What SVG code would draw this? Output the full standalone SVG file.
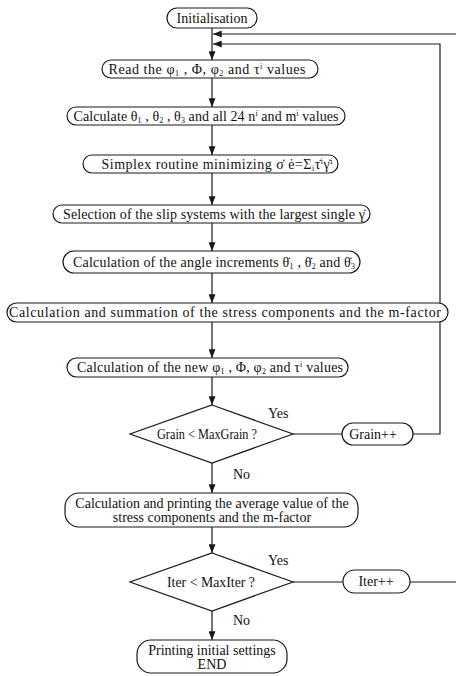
<svg xmlns="http://www.w3.org/2000/svg" width="456" height="676" viewBox="0 0 456 676">
<defs>
<style>
.box{fill:#fff;stroke:#1a1a1a;stroke-width:1.2}
.t{font-family:"Liberation Serif","Times New Roman",serif;font-size:14px;fill:#111;text-anchor:middle}
.l{font-family:"Liberation Serif","Times New Roman",serif;font-size:14px;fill:#111}
.s{font-size:8px}
.c{fill:none;stroke:#1a1a1a;stroke-width:1.2}
</style>
<marker id="ah" viewBox="0 0 10 8" refX="10" refY="4" markerWidth="10" markerHeight="7" markerUnits="userSpaceOnUse" orient="auto">
<path d="M0,0 L10,4 L0,8 z" fill="#1a1a1a"/>
</marker>
</defs>
<rect width="456" height="676" fill="#fff"/>
<g id="connectors">
<path class="c" d="M212,28 V60" marker-end="url(#ah)"/>
<path class="c" d="M212,78 V107" marker-end="url(#ah)"/>
<path class="c" d="M212,125 V155" marker-end="url(#ah)"/>
<path class="c" d="M212,173 V205" marker-end="url(#ah)"/>
<path class="c" d="M212,223 V251" marker-end="url(#ah)"/>
<path class="c" d="M212,273 V303" marker-end="url(#ah)"/>
<path class="c" d="M212,322 V358" marker-end="url(#ah)"/>
<path class="c" d="M212,377 V405" marker-end="url(#ah)"/>
<path class="c" d="M212,463 V493" marker-end="url(#ah)"/>
<path class="c" d="M212,527 V553" marker-end="url(#ah)"/>
<path class="c" d="M212,611 V640" marker-end="url(#ah)"/>
<path class="c" d="M293,434 H342"/>
<path class="c" d="M413,434 H440 V44 H213" marker-end="url(#ah)"/>
<path class="c" d="M293,582 H343"/>
<path class="c" d="M410,582 H458 V34 H213" marker-end="url(#ah)"/>
<text class="l" x="268" y="418">Yes</text>
<text class="l" x="233" y="479">No</text>
<text class="l" x="268" y="565">Yes</text>
<text class="l" x="233" y="625">No</text>
</g>
<g id="init">
<rect class="box" x="167" y="8" width="90" height="20" rx="10"/>
<text class="t" x="212" y="23">Initialisation</text>
</g>
<g id="read">
<rect class="box" x="102" y="60" width="216" height="18" rx="9"/>
<text class="t" x="207" y="74" textLength="197" lengthAdjust="spacing">Read the φ<tspan class="s" dy="2">1</tspan><tspan dy="-2"> , Φ, φ</tspan><tspan class="s" dy="2">2</tspan><tspan dy="-2"> and τ</tspan><tspan class="s" dy="-5">i</tspan><tspan dy="5">  values</tspan></text>
</g>
<g id="calc">
<rect class="box" x="67" y="107" width="278" height="18" rx="9"/>
<text class="t" x="206" y="121" textLength="265" lengthAdjust="spacing">Calculate θ<tspan class="s" dy="2">1</tspan><tspan dy="-2"> , θ</tspan><tspan class="s" dy="2">2</tspan><tspan dy="-2"> , θ</tspan><tspan class="s" dy="2">3</tspan><tspan dy="-2"> and all 24 n</tspan><tspan class="s" dy="-5">i</tspan><tspan dy="5"> and m</tspan><tspan class="s" dy="-5">i</tspan><tspan dy="5"> values</tspan></text>
</g>
<g id="simplex">
<rect class="box" x="83" y="155" width="255" height="18" rx="9"/>
<text class="t" x="217" y="169" textLength="231" lengthAdjust="spacing">Simplex routine minimizing σ̇ ė=Σ<tspan class="s" dy="2">i</tspan><tspan dy="-2">τ̇</tspan><tspan class="s" dy="-5">i</tspan><tspan dy="5">γ̇</tspan><tspan class="s" dy="-5">i</tspan></text>
</g>
<g id="select">
<rect class="box" x="53" y="205" width="317" height="18" rx="9"/>
<text class="t" x="214" y="219" textLength="302" lengthAdjust="spacing">Selection of the slip systems with the largest single γ̇</text>
</g>
<g id="angle">
<rect class="box" x="63" y="251" width="297" height="22" rx="11"/>
<text class="t" x="214" y="267" textLength="282" lengthAdjust="spacing">Calculation of the angle increments θ̇<tspan class="s" dy="2">1</tspan><tspan dy="-2"> , θ̇</tspan><tspan class="s" dy="2">2</tspan><tspan dy="-2">  and θ̇</tspan><tspan class="s" dy="2">3</tspan></text>
</g>
<g id="stress">
<rect class="box" x="7" y="303" width="441" height="19" rx="9.5"/>
<text class="t" x="225" y="317" textLength="432" lengthAdjust="spacing">Calculation and summation of the stress components and the m-factor</text>
</g>
<g id="new">
<rect class="box" x="67" y="358" width="281" height="19" rx="9.5"/>
<text class="t" x="210" y="372" textLength="266" lengthAdjust="spacing">Calculation of the new φ<tspan class="s" dy="2">1</tspan><tspan dy="-2"> , Φ, φ</tspan><tspan class="s" dy="2">2</tspan><tspan dy="-2"> and τ</tspan><tspan class="s" dy="-5">i</tspan><tspan dy="5">  values</tspan></text>
</g>
<g id="grain-cond">
<polygon class="box" points="212,405 293,434 212,463 130,434"/>
<text class="t" x="207" y="439" textLength="100" lengthAdjust="spacingAndGlyphs">Grain &lt; MaxGrain ?</text>
</g>
<g id="grain-inc">
<rect class="box" x="342" y="423" width="71" height="22" rx="11"/>
<text class="t" x="373" y="439">Grain++</text>
</g>
<g id="average">
<rect class="box" x="65" y="493" width="293" height="34" rx="14"/>
<text class="t" x="212" y="508">Calculation and printing the average value of the</text>
<text class="t" x="212" y="522">stress components and the m-factor</text>
</g>
<g id="iter-cond">
<polygon class="box" points="212,553 293,582 212,611 130,582"/>
<text class="t" x="211" y="587" textLength="88" lengthAdjust="spacingAndGlyphs">Iter &lt; MaxIter ?</text>
</g>
<g id="iter-inc">
<rect class="box" x="343" y="570" width="67" height="23" rx="11.5"/>
<text class="t" x="376" y="586">Iter++</text>
</g>
<g id="end">
<rect class="box" x="137" y="640" width="150" height="33" rx="14"/>
<text class="t" x="212" y="655">Printing initial settings</text>
<text class="t" x="212" y="669">END</text>
</g>
</svg>
